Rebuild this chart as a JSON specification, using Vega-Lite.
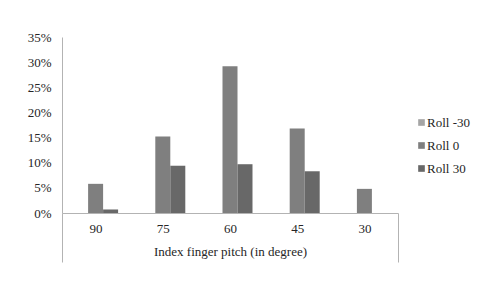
{
  "$schema": "https://vega.github.io/schema/vega-lite/v6.json",
  "width": 336,
  "height": 176,
  "autosize": {"type": "none"},
  "padding": {"left": 62, "top": 37, "right": 87, "bottom": 79},
  "background": "white",
  "config": {"view": {"stroke": null}, "font": "'Liberation Serif', serif"},
  "data": {
    "values": [
      {"pitch": "90", "roll": "Roll -30", "value": 0},
      {"pitch": "90", "roll": "Roll 0", "value": 0.058},
      {"pitch": "90", "roll": "Roll 30", "value": 0.007},
      {"pitch": "75", "roll": "Roll -30", "value": 0},
      {"pitch": "75", "roll": "Roll 0", "value": 0.152},
      {"pitch": "75", "roll": "Roll 30", "value": 0.094},
      {"pitch": "60", "roll": "Roll -30", "value": 0},
      {"pitch": "60", "roll": "Roll 0", "value": 0.292},
      {"pitch": "60", "roll": "Roll 30", "value": 0.097},
      {"pitch": "45", "roll": "Roll -30", "value": 0},
      {"pitch": "45", "roll": "Roll 0", "value": 0.168},
      {"pitch": "45", "roll": "Roll 30", "value": 0.083},
      {"pitch": "30", "roll": "Roll -30", "value": 0},
      {"pitch": "30", "roll": "Roll 0", "value": 0.048},
      {"pitch": "30", "roll": "Roll 30", "value": 0}
    ]
  },
  "mark": {"type": "bar"},
  "encoding": {
    "x": {
      "field": "pitch",
      "type": "nominal",
      "sort": ["90", "75", "60", "45", "30"],
      "scale": {"paddingInner": 0, "paddingOuter": 0},
      "title": "Index finger pitch (in degree)",
      "axis": {
        "labelAngle": 0,
        "tickBand": "extent",
        "tickSize": 49,
        "tickColor": {"condition": {"test": "datum.value == '30' || datum.extra", "value": "#b3b3b3"}, "value": "transparent"},
        "domainColor": "#b3b3b3",
        "labelPadding": -40,
        "labelFontSize": 13,
        "labelColor": "#262626",
        "labelFont": "'Liberation Serif', serif",
        "titleFont": "'Liberation Serif', serif",
        "titleFontSize": 13,
        "titleFontWeight": "normal",
        "titleColor": "#262626",
        "titleY": 32,
        "titleBaseline": "top"
      }
    },
    "xOffset": {
      "field": "roll",
      "sort": ["Roll -30", "Roll 0", "Roll 30"],
      "scale": {"paddingInner": 0, "paddingOuter": 0.74}
    },
    "y": {
      "field": "value",
      "type": "quantitative",
      "scale": {"domain": [0, 0.35]},
      "title": null,
      "axis": {
        "format": ".0%",
        "values": [0, 0.05, 0.1, 0.15, 0.2, 0.25, 0.3, 0.35],
        "ticks": false,
        "grid": false,
        "domainColor": "#b3b3b3",
        "labelPadding": 11,
        "labelFontSize": 13,
        "labelColor": "#262626",
        "labelFont": "'Liberation Serif', serif"
      }
    },
    "color": {
      "field": "roll",
      "type": "nominal",
      "scale": {"domain": ["Roll -30", "Roll 0", "Roll 30"], "range": ["#a5a5a5", "#7f7f7f", "#686868"]},
      "legend": {
        "orient": "none",
        "legendX": 353,
        "legendY": 79,
        "title": null,
        "symbolType": "square",
        "symbolSize": 44,
        "symbolStrokeWidth": 0,
        "labelFont": "'Liberation Serif', serif",
        "labelFontSize": 13,
        "labelColor": "#262626",
        "labelOffset": -1,
        "rowPadding": 9
      }
    }
  }
}
